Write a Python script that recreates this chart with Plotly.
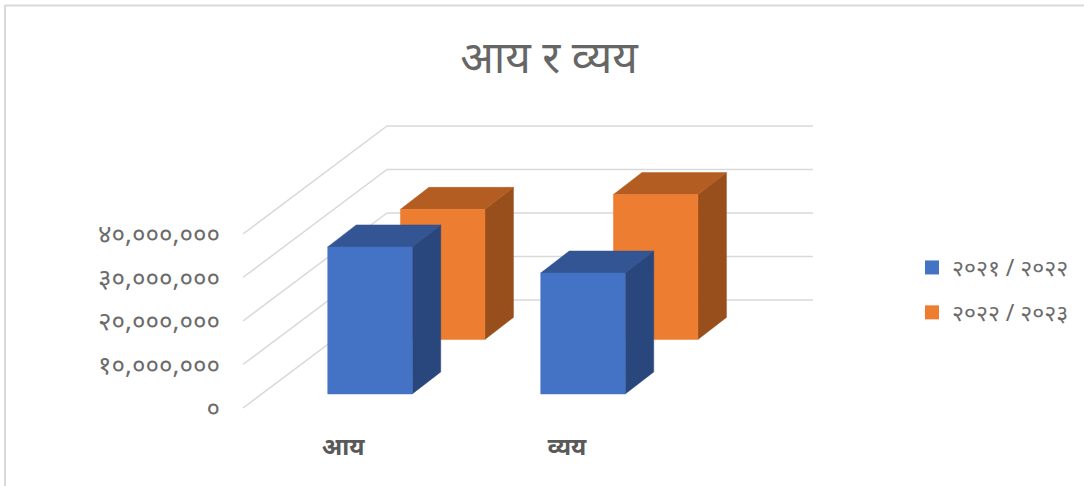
import plotly.graph_objects as go

# Chart content
title_text = "आय र व्यय"
categories = ["आय", "व्यय"]
series_names = ["२०२१ / २०२२", "२०२२ / २०२३"]
series_values = [
    [33800000, 27800000],
    [29900000, 33300000],
]
series_front = ["#4472C4", "#ED7D31"]
series_top = ["#335593", "#B35D22"]
series_side = ["#29477D", "#994F1C"]
tick_values = [0, 10000000, 20000000, 30000000, 40000000]
tick_labels = ["०", "१०,०००,०००", "२०,०००,०००", "३०,०००,०००", "४०,०००,०००"]

# Pixel scales of the oblique projection
W, H = 1084, 486
X0, Y0 = 243, 408          # front-left corner of the floor
SLOT = 213                 # category width, px
PX_PER_UNIT = 43.5 / 10000000
DEPTH_X, DEPTH_Y = 144, 108   # full floor depth shift
BAR_W = 84.5
BAR_DX, BAR_DY = 28.5, 22     # bar depth shift
LABEL_X = [343, 567]
DEPTHS = [0.13, 0.635]


def px_to_val(dy):
    return dy / PX_PER_UNIT


def project(slot_x, value, depth):
    """slot_x in px along front edge, value in data units, depth 0..1 across floor"""
    return X0 + slot_x + depth * DEPTH_X, value + px_to_val(depth * DEPTH_Y)


fig = go.Figure()

# gridlines: left wall and back wall
for v in tick_values:
    a = project(0, v, 0)
    b = project(0, v, 1)
    c = project(2 * SLOT, v, 1)
    fig.add_trace(go.Scatter(x=[a[0], b[0], c[0]], y=[a[1], b[1], c[1]], mode="lines",
                             line=dict(color="#D9D9D9", width=1.5), showlegend=False, hoverinfo="skip"))


def box(x0, z0, v):
    """faces of a column whose front-lower-left is at slot x0, depth z0"""
    f = lambda sx, val, extra: (X0 + x0 + sx + z0 * DEPTH_X + extra * BAR_DX,
                                val + px_to_val(z0 * DEPTH_Y + extra * BAR_DY))
    front = [f(0, 0, 0), f(BAR_W, 0, 0), f(BAR_W, v, 0), f(0, v, 0)]
    side = [f(BAR_W, 0, 0), f(BAR_W, 0, 1), f(BAR_W, v, 1), f(BAR_W, v, 0)]
    top = [f(0, v, 0), f(BAR_W, v, 0), f(BAR_W, v, 1), f(0, v, 1)]
    return front, side, top


for s in [1, 0]:
    for c in range(len(categories)):
        front, side, top = box(SLOT * c + 66, DEPTHS[s], series_values[s][c])
        for poly, col in ((side, series_side[s]), (top, series_top[s]), (front, series_front[s])):
            xs = [p[0] for p in poly] + [poly[0][0]]
            ys = [p[1] for p in poly] + [poly[0][1]]
            fig.add_trace(go.Scatter(x=xs, y=ys, mode="lines", fill="toself", fillcolor=col,
                                     line=dict(color=col, width=0.5), showlegend=False, hoverinfo="skip"))

# legend keys
for name, col in zip(series_names, series_front):
    fig.add_trace(go.Scatter(x=[None], y=[None], mode="markers", name=name, legendgroup=name,
                             marker=dict(symbol="square", size=14, color=col)))

FONT = "Noto Sans, Lato, sans-serif"
fig.update_layout(
    width=W, height=H,
    margin=dict(l=0, r=0, t=0, b=0, autoexpand=False),
    paper_bgcolor="white", plot_bgcolor="white",
    title=dict(text=title_text, x=549 / W, xanchor="center", y=1 - 58 / H, yanchor="middle",
               font=dict(family=FONT, size=44, color="#666666")),
    xaxis=dict(range=[0, W], showgrid=False, zeroline=False, showline=False,
               tickvals=LABEL_X,
               ticktext=categories, ticks="", anchor="free", position=1 - 430 / H, side="bottom",
               tickfont=dict(family=FONT, size=24, color="#595959", weight="bold")),
    yaxis=dict(range=[-(H - Y0) / PX_PER_UNIT, Y0 / PX_PER_UNIT], showgrid=False, zeroline=False,
               showline=False, tickvals=tick_values, ticktext=tick_labels, ticks="",
               anchor="free", position=220 / W,
               tickfont=dict(family=FONT, size=26, color="#6b6b6b")),
    legend=dict(x=912 / W, y=1 - 246 / H, xanchor="left", yanchor="top", tracegroupgap=12,
                font=dict(family=FONT, size=23, color="#6b6b6b"), itemwidth=30),
    shapes=[
        dict(type="line", xref="paper", yref="paper", x0=5 / W, x1=1, y0=1 - 5.5 / H, y1=1 - 5.5 / H,
             line=dict(color="#D9D9D9", width=2)),
        dict(type="line", xref="paper", yref="paper", x0=5 / W, x1=5 / W, y0=0, y1=1 - 5 / H,
             line=dict(color="#D9D9D9", width=2)),
    ],
)

fig.write_html("out.html", config={"displayModeBar": False},
               post_script="document.documentElement.style.overflow='hidden';document.body.style.margin='0';")
